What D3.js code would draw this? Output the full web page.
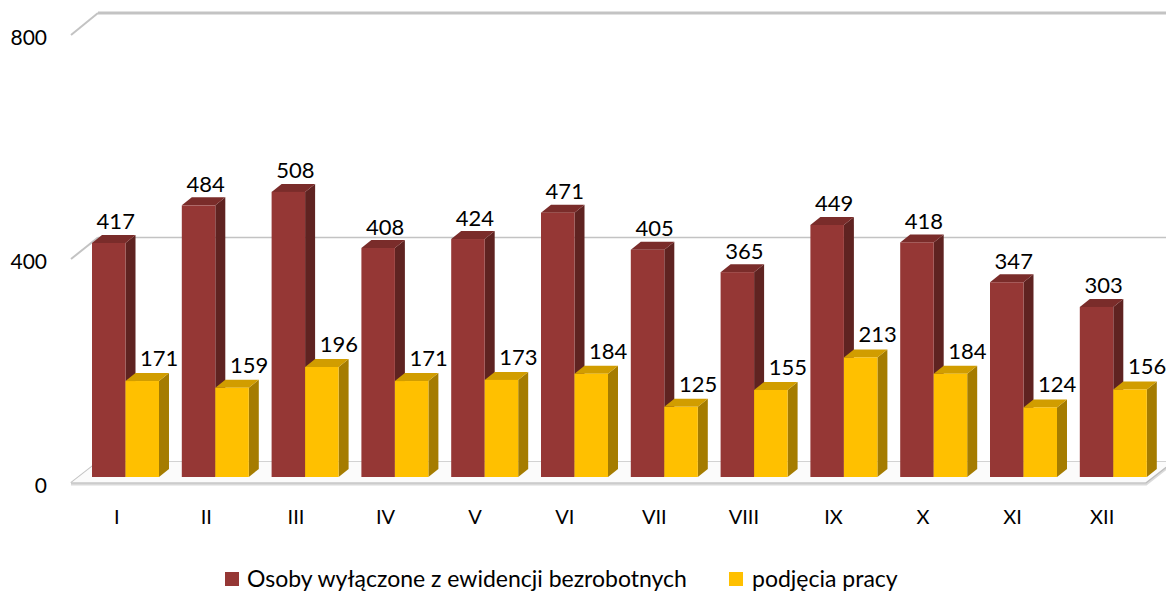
<!DOCTYPE html>
<html lang="pl">
<head>
<meta charset="utf-8">
<title>Osoby wyłączone z ewidencji bezrobotnych</title>
<script src="https://d3js.org/d3.v7.min.js"></script>
<style>
  body { margin: 0; background: #fff; }
  svg { display: block; font-family: Lato, 'Open Sans', sans-serif; }
</style>
</head>
<body>
<svg width="1166" height="592"></svg>
<script>
// data
var months = ["I","II","III","IV","V","VI","VII","VIII","IX","X","XI","XII"];
var wylaczone = [417,484,508,408,424,471,405,365,449,418,347,303];
var podjecia  = [171,159,196,171,173,184,125,155,213,184,124,156];
var yTicks = [0,400,800];
var seriesNames = ["Osoby wyłączone z ewidencji bezrobotnych", "podjęcia pracy"];

var svg = d3.select("svg");

// 3d projection: front edge of floor, back wall, and the bar front plane
var depthX = 27, depthY = -21;
var yFront = d3.scaleLinear().domain([0,800]).range([483,35]);
var yBack  = d3.scaleLinear().domain([0,800]).range([462,13]);
var yBar   = d3.scaleLinear().domain([0,800]).range([477,28]);

var xFloor = d3.scaleBand().domain(months).range([71,1146]);
var xBar = d3.scaleBand().domain(months).range([80.6,1158.2])
    .paddingInner(0.254).paddingOuter(0.127);
var bw = xBar.bandwidth()/2;
var bdx = 10, bdy = -8;   // bar depth

var gridColor = "#c3c3c3";

// back wall gridlines
svg.selectAll(".grid").data(yTicks).enter().append("line")
    .attr("x1", 71+depthX).attr("x2", 1180)
    .attr("y1", function(d){ return yBack(d); })
    .attr("y2", function(d){ return yBack(d); })
    .attr("stroke", gridColor).attr("stroke-width", function(d){ return d==800 ? 3 : 1.5; });

// left side diagonals
svg.selectAll(".diag").data(yTicks).enter().append("line")
    .attr("x1", 71).attr("x2", 71+depthX)
    .attr("y1", function(d){ return yFront(d); })
    .attr("y2", function(d){ return yBack(d); })
    .attr("stroke", gridColor).attr("stroke-width", 2);

// floor
var f0 = yFront(0), b0 = yBack(0);
svg.append("path")
    .attr("d", "M71," + f0 + "L1146," + f0 + "L" + (1146+depthX) + "," + b0 + "L" + (71+depthX) + "," + b0 + "Z")
    .attr("fill", "#fbfbfb").attr("stroke", "none");
svg.append("path")
    .attr("d", "M71," + (f0+1) + "L1146," + (f0+1) + "L" + (1146+depthX) + "," + (b0+1))
    .attr("fill", "none").attr("stroke", "#dadada").attr("stroke-width", 3);
svg.append("path")
    .attr("d", "M71," + f0 + "L1146," + f0 + "L" + (1146+depthX) + "," + b0)
    .attr("fill", "none").attr("stroke", "#bdbdbd").attr("stroke-width", 1.2);

// y labels
svg.selectAll(".ylab").data(yTicks).enter().append("text")
    .attr("x", 47).attr("y", function(d){ return yFront(d) + 10; })
    .attr("text-anchor", "end").attr("font-size", 21).attr("fill", "#000")
    .text(function(d){ return d; });

// month labels
svg.selectAll(".xlab").data(months).enter().append("text")
    .attr("x", function(d){ return xFloor(d) + xFloor.bandwidth()/2 + 1; })
    .attr("y", 524).attr("text-anchor", "middle")
    .attr("font-size", 20).attr("fill", "#000")
    .text(function(d){ return d; });

var colors = [
  {front:"#953735", side:"#5f2321", top:"#7a2c2a"},
  {front:"#ffc000", side:"#a57c00", top:"#d19d00"}
];

function drawBar(g, x, v, c) {
  var yt = yBar(v), yb = yBar(0);
  g.append("path")
    .attr("d", "M"+(x+bw)+","+yb+"L"+(x+bw+bdx)+","+(yb+bdy)+"L"+(x+bw+bdx)+","+(yt+bdy)+"L"+(x+bw)+","+yt+"Z")
    .attr("fill", c.side);
  g.append("path")
    .attr("d", "M"+x+","+yt+"L"+(x+bdx)+","+(yt+bdy)+"L"+(x+bw+bdx)+","+(yt+bdy)+"L"+(x+bw)+","+yt+"Z")
    .attr("fill", c.top);
  g.append("rect")
    .attr("x", x).attr("y", yt).attr("width", bw).attr("height", yb-yt)
    .attr("fill", c.front);
}

var series = [wylaczone, podjecia];
var labOff = [{dx:7, dy:-13.5}, {dx:17, dy:-15}];

months.forEach(function(m, i){
  var g = svg.append("g");
  series.forEach(function(s, k){
    var x = xBar(m) + k*bw;
    drawBar(g, x, s[i], colors[k]);
  });
});

// data labels on top
months.forEach(function(m, i){
  series.forEach(function(s, k){
    var x = xBar(m) + k*bw;
    svg.append("text")
      .attr("x", x + bw/2 + labOff[k].dx)
      .attr("y", yBar(s[i]) + labOff[k].dy)
      .attr("text-anchor", "middle").attr("font-size", 22).attr("fill", "#000")
      .text(s[i]);
  });
});

// legend
var leg = [{x:225, tx:247}, {x:729, tx:752}];
seriesNames.forEach(function(n, k){
  svg.append("rect").attr("x", leg[k].x).attr("y", 572).attr("width", 14).attr("height", 14)
    .attr("fill", colors[k].front);
  svg.append("text").attr("x", leg[k].tx).attr("y", 587)
    .attr("font-size", 23).attr("fill", "#000").text(n);
});
</script>
</body>
</html>
